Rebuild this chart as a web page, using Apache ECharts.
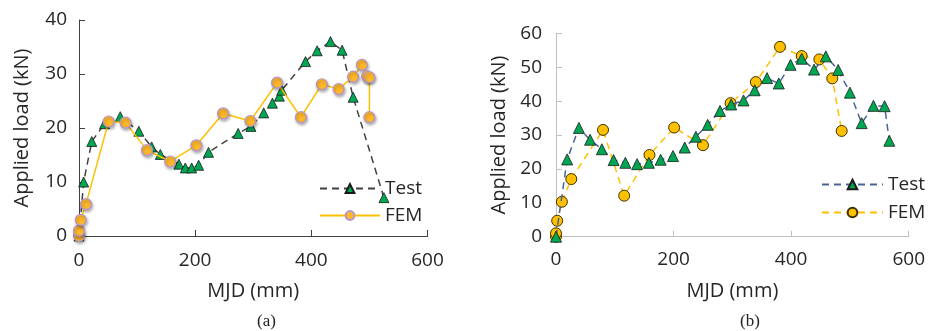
<!DOCTYPE html>
<html>
<head>
<meta charset="utf-8">
<script src="https://cdn.jsdelivr.net/npm/echarts@6/dist/echarts.min.js"></script>
<style>
html,body{margin:0;padding:0;background:#fff;}
#chart{width:928px;height:331px;}
</style>
</head>
<body>
<div id="chart"></div>
<script>
// ---- Data ----
const xTicks = [0, 200, 400, 600];
const leftYTicks = [0, 10, 20, 30, 40];
const rightYTicks = [0, 10, 20, 30, 40, 50, 60];

// (a) Test
const aTestX = [0, 8, 22, 44, 71, 103, 125, 140, 172, 183, 194, 206, 223, 274, 296, 318, 333, 345, 349, 390, 410, 433, 453, 472, 525];
const aTestY = [0, 10, 17.5, 20.8, 22.1, 19.4, 16.5, 15.1, 13.3, 12.6, 12.6, 13.1, 15.5, 19, 20.3, 22.8, 24.6, 25.9, 27, 32.3, 34.3, 36, 34.4, 25.7, 7.1];
// (a) FEM
const aFemX = [0, 0, 3, 12, 51, 80, 117, 157, 202, 248, 295, 341, 382, 418, 447, 472, 487, 496, 500, 500];
const aFemY = [0, 1, 3, 5.9, 21.2, 21, 15.9, 13.8, 16.8, 22.7, 21.3, 28.4, 22, 28.1, 27.2, 29.5, 31.7, 29.6, 29.4, 22];

// (b) Test
const bTestX = [0, 19, 39, 58, 78, 98, 118, 138, 158, 178, 199, 219, 238, 258, 279, 298, 319, 338, 359, 379, 399, 418, 439, 459, 480, 500, 520, 540, 559, 567];
const bTestY = [0, 22.8, 32.1, 28.6, 25.8, 22.6, 21.8, 21.4, 21.8, 22.7, 23.8, 26.3, 29.5, 33, 37.1, 39, 40.2, 43.2, 46.8, 45.2, 50.7, 52.5, 49.3, 53.2, 49.2, 42.5, 33.5, 38.6, 38.5, 28.3];
// (b) FEM
const bFemX = [0, 0, 2, 10, 26, 80, 116, 159, 201, 250, 297, 340, 381, 418, 448, 470, 486];
const bFemY = [0, 1, 4.7, 10.3, 17, 31.5, 12.1, 24.1, 32.2, 27, 39.4, 45.6, 56, 53.3, 52.3, 46.7, 31.2];

const seriesNames = ['Test', 'FEM'];
const xName = 'MJD (mm)';
const yName = 'Applied load (kN)';
const panelLabels = ['(a)', '(b)'];

// ---- Build ----
const pairs = (xs, ys) => xs.map((x, i) => [x, ys[i]]);
const FONT = '"Open Sans", "Noto Sans", sans-serif';
const TXT = '#262626';

function xAxisDef(gi, lineColor, labelMargin, nameGap) {
  return {
    type: 'value', gridIndex: gi, min: xTicks[0], max: xTicks[xTicks.length - 1],
    interval: xTicks[1] - xTicks[0],
    name: xName, nameLocation: 'middle', nameGap: nameGap,
    nameTextStyle: { fontFamily: FONT, fontSize: 20, color: TXT },
    axisLine: { show: true, lineStyle: { color: lineColor, width: 1 } },
    axisTick: { show: true, inside: true, length: 6, lineStyle: { color: lineColor } },
    axisLabel: { fontFamily: FONT, fontSize: 19, color: TXT, margin: labelMargin },
    splitLine: { show: false }
  };
}
function yAxisDef(gi, ticks, lineColor, labelMargin, nameGap) {
  return {
    type: 'value', gridIndex: gi, min: ticks[0], max: ticks[ticks.length - 1],
    interval: ticks[1] - ticks[0],
    name: yName, nameLocation: 'middle', nameGap: nameGap, nameRotate: 90,
    nameTextStyle: { fontFamily: FONT, fontSize: 20, color: TXT },
    axisLine: { show: true, lineStyle: { color: lineColor, width: 1 } },
    axisTick: { show: true, inside: true, length: 6, lineStyle: { color: lineColor } },
    axisLabel: { fontFamily: FONT, fontSize: 19, color: TXT, margin: labelMargin },
    splitLine: { show: false }
  };
}

const chart = echarts.init(document.getElementById('chart'), null, { renderer: 'canvas' });
const option = {
  animation: false,
  backgroundColor: '#ffffff',
  grid: [
    { left: 79, top: 20, width: 348.5, height: 216 },
    { left: 556, top: 33.3, width: 353.7, height: 203.4 }
  ],
  xAxis: [xAxisDef(0, '#404040', 15, 45), xAxisDef(1, '#bfbfbf', 13, 45)],
  yAxis: [yAxisDef(0, leftYTicks, '#404040', 12, 47), yAxisDef(1, rightYTicks, '#bfbfbf', 14, 47)],
  legend: [
    {
      data: seriesNames.map(n => ({ name: n })),
      orient: 'vertical', left: 319, top: 179, padding: 0,
      itemWidth: 60, itemHeight: 11, itemGap: 8,
      textStyle: { fontFamily: FONT, fontSize: 19, color: TXT },
      selectedMode: false
    },
    {
      data: seriesNames.map(n => ({ name: n + ' ' })),
      orient: 'vertical', left: 821, top: 175, padding: 0,
      itemWidth: 61, itemHeight: 12, itemGap: 9,
      textStyle: { fontFamily: FONT, fontSize: 19, color: TXT },
      selectedMode: false
    }
  ],
  graphic: [
    { type: 'text', left: 257, top: 313, style: { text: panelLabels[0], font: '17px "Liberation Serif", "DejaVu Serif", serif', fill: '#222' } },
    { type: 'text', left: 740, top: 313, style: { text: panelLabels[1], font: '17px "Liberation Serif", "DejaVu Serif", serif', fill: '#222' } }
  ],
  series: [
    {
      name: seriesNames[0], type: 'line', xAxisIndex: 0, yAxisIndex: 0,
      data: pairs(aTestX, aTestY),
      symbol: 'triangle', symbolSize: 10,
      lineStyle: { color: '#404040', width: 1.5, type: [7, 5] },
      itemStyle: { color: '#00a651', borderColor: '#1a1a1a', borderWidth: 0.8 },
      z: 2
    },
    {
      name: seriesNames[1], type: 'line', xAxisIndex: 0, yAxisIndex: 0,
      data: pairs(aFemX, aFemY),
      symbol: 'circle', symbolSize: 11,
      lineStyle: { color: '#ffc000', width: 1.5 },
      itemStyle: { color: '#fdb72a', borderColor: '#b594d2', borderWidth: 1.2,
        shadowBlur: 3, shadowColor: 'rgba(0,0,0,0.3)', shadowOffsetX: 1, shadowOffsetY: 2 },
      z: 3
    },
    {
      name: seriesNames[1] + ' ', type: 'line', xAxisIndex: 1, yAxisIndex: 1,
      data: pairs(bFemX, bFemY),
      symbol: 'circle', symbolSize: 11,
      lineStyle: { color: '#ffc000', width: 1.5, type: [7, 5] },
      itemStyle: { color: '#ffc000', borderColor: '#3f3300', borderWidth: 1 },
      z: 2
    },
    {
      name: seriesNames[0] + ' ', type: 'line', xAxisIndex: 1, yAxisIndex: 1,
      data: pairs(bTestX, bTestY),
      symbol: 'triangle', symbolSize: 11,
      lineStyle: { color: '#4a6396', width: 1.5, type: [7, 5] },
      itemStyle: { color: '#00a651', borderColor: '#1a1a1a', borderWidth: 0.8 },
      z: 3
    }
  ]
};
chart.setOption(option);
</script>
</body>
</html>
